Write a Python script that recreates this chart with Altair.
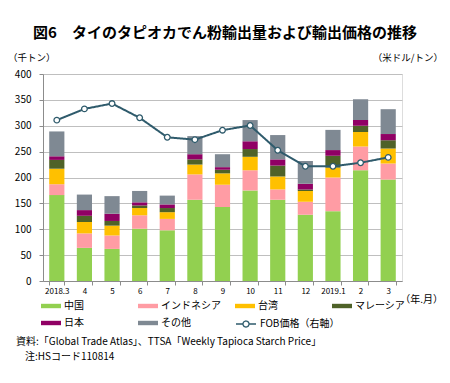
import altair as alt
import pandas as pd

months = ["2018.3", "4", "5", "6", "7", "8", "9", "10", "11", "12", "2019.1", "2", "3"]
series = ["中国", "インドネシア", "台湾", "マレーシア", "日本", "その他"]
china = [166, 64, 62, 101, 98, 157, 143, 175, 157, 128, 135, 214, 196]
indonesia = [21, 28, 26, 26, 22, 49, 43, 39, 20, 25, 65, 46, 31]
taiwan = [30, 22, 19, 14, 13, 19, 22, 26, 25, 21, 19, 28, 29]
malaysia = [17, 12, 9, 5, 8, 10, 7, 15, 21, 3, 23, 12, 16]
japan = [7, 11, 14, 6, 7, 10, 5, 15, 12, 11, 11, 11, 12]
other = [48, 30, 34, 22, 17, 35, 25, 41, 47, 44, 39, 40, 48]
fob = [522, 541, 550, 526, 493, 489, 505, 513, 471, 444, 444, 450, 459]
fob_name = "FOB価格（右軸）"

colors = ["#92D050", "#FF9CA4", "#FFC000", "#4F6228", "#900064", "#7F8993"]
LINE = "#2F5B6C"
FONT = "Noto Sans CJK JP"

vals = [china, indonesia, taiwan, malaysia, japan, other]
rows = []
for si, (s, v) in enumerate(zip(series, vals)):
    for m, x in zip(months, v):
        rows.append({"month": m, "series": s, "value": x, "idx": si})
bars_df = pd.DataFrame(rows)
line_df = pd.DataFrame({"month": months, "fob": fob, "series": fob_name})

x_enc = alt.X("month:N", sort=months, title=None,
              scale=alt.Scale(paddingInner=0.45, paddingOuter=0.225),
              axis=alt.Axis(labelAngle=0, labelFontSize=8, labelFont=FONT, tickBand="extent",
                            tickSize=4, labelPadding=2, domainColor="#8C8C8C", tickColor="#8C8C8C",
                            labelColor="#000"))

bar_legend = alt.Legend(
    title=None, orient="none", direction="horizontal", legendX=-2, legendY=222, columns=4,
    gridAlign="all", columnPadding=14, rowPadding=2, symbolSize=400,
    symbolType="M-1,-0.22H1V0.22H-1Z",
    symbolStrokeWidth=0, symbolOpacity=1, labelFont=FONT, labelFontSize=10,
    labelColor="#000", labelOffset=3)

line_legend = alt.Legend(
    title=None, orient="none", direction="horizontal", legendX=192, legendY=239, symbolSize=400,
    symbolType="M-1,0H-0.3A0.3,0.3 0 1,1 0.3,0A0.3,0.3 0 1,1 -0.3,0M0.3,0H1",
    symbolFillColor="white", symbolStrokeColor=LINE, symbolStrokeWidth=1.3, symbolOpacity=1,
    labelFont=FONT, labelFontSize=10, labelColor="#000", labelOffset=3)

bars = alt.Chart(bars_df).mark_bar().encode(
    x=x_enc,
    y=alt.Y("value:Q", stack="zero", title=None,
            scale=alt.Scale(domain=[0, 400], nice=False),
            axis=alt.Axis(orient="left", values=list(range(0, 401, 50)), labelFontSize=10,
                          labelFont=FONT, tickSize=4, labelPadding=8, grid=True,
                          gridColor="#BFBFBF", domainColor="#8C8C8C", tickColor="#8C8C8C",
                          labelColor="#000")),
    color=alt.Color("series:N", scale=alt.Scale(domain=series, range=colors), legend=bar_legend),
    order=alt.Order("idx:Q", sort="ascending"),
)

y_right = alt.Y("fob:Q", title=None, scale=alt.Scale(domain=[250, 600], nice=False),
                axis=alt.Axis(orient="right", values=list(range(250, 601, 50)), labelFontSize=10,
                              labelFont=FONT, tickSize=4, labelPadding=3, grid=False,
                              domainColor="#8C8C8C", tickColor="#8C8C8C", labelColor="#000"))

line = alt.Chart(line_df).mark_line(strokeWidth=2, color=LINE).encode(
    x=alt.X("month:N", sort=months), y=y_right,
    strokeDash=alt.StrokeDash("series:N", scale=alt.Scale(domain=[fob_name], range=[[1, 0]]),
                              legend=line_legend))
points = alt.Chart(line_df).mark_point(filled=True, fill="white", stroke=LINE, strokeWidth=1.3,
                                       size=32, opacity=1, shape="circle").encode(
    x=alt.X("month:N", sort=months),
    y=alt.Y("fob:Q", scale=alt.Scale(domain=[250, 600], nice=False), axis=None))


def label(text, x, y, align="left", size=10, bold=False):
    return alt.Chart(pd.DataFrame({"t": [text]})).mark_text(
        align=align, baseline="middle", font=FONT, fontSize=size,
        fontWeight="bold" if bold else "normal", color="#000").encode(
        text="t:N", x=alt.value(x), y=alt.value(y))


texts = [
    label("図6　タイのタピオカでん粉輸出量および輸出価格の推移", 182, -41, "center", 15, True),
    label("（千トン）", -35, -16, size=9.5),
    label("（米ドル/トン）", 400, -16, "right", size=9.5),
    label("（年.月）", 400, 226, "right", size=10),
    label("資料:「Global Trade Atlas」、TTSA「Weekly Tapioca Starch Price」", -27, 268),
    label("注:HSコード110814", -18, 283),
]

chart = alt.layer(bars, alt.layer(line, points), *texts).resolve_scale(y="independent").properties(
    width=359, height=207, autosize="none",
    padding={"left": 35, "top": 66, "right": 40, "bottom": 94},
).configure_view(stroke=None).configure(background="white")

chart.save("out.html", embed_options={"renderer": "svg", "actions": False})
